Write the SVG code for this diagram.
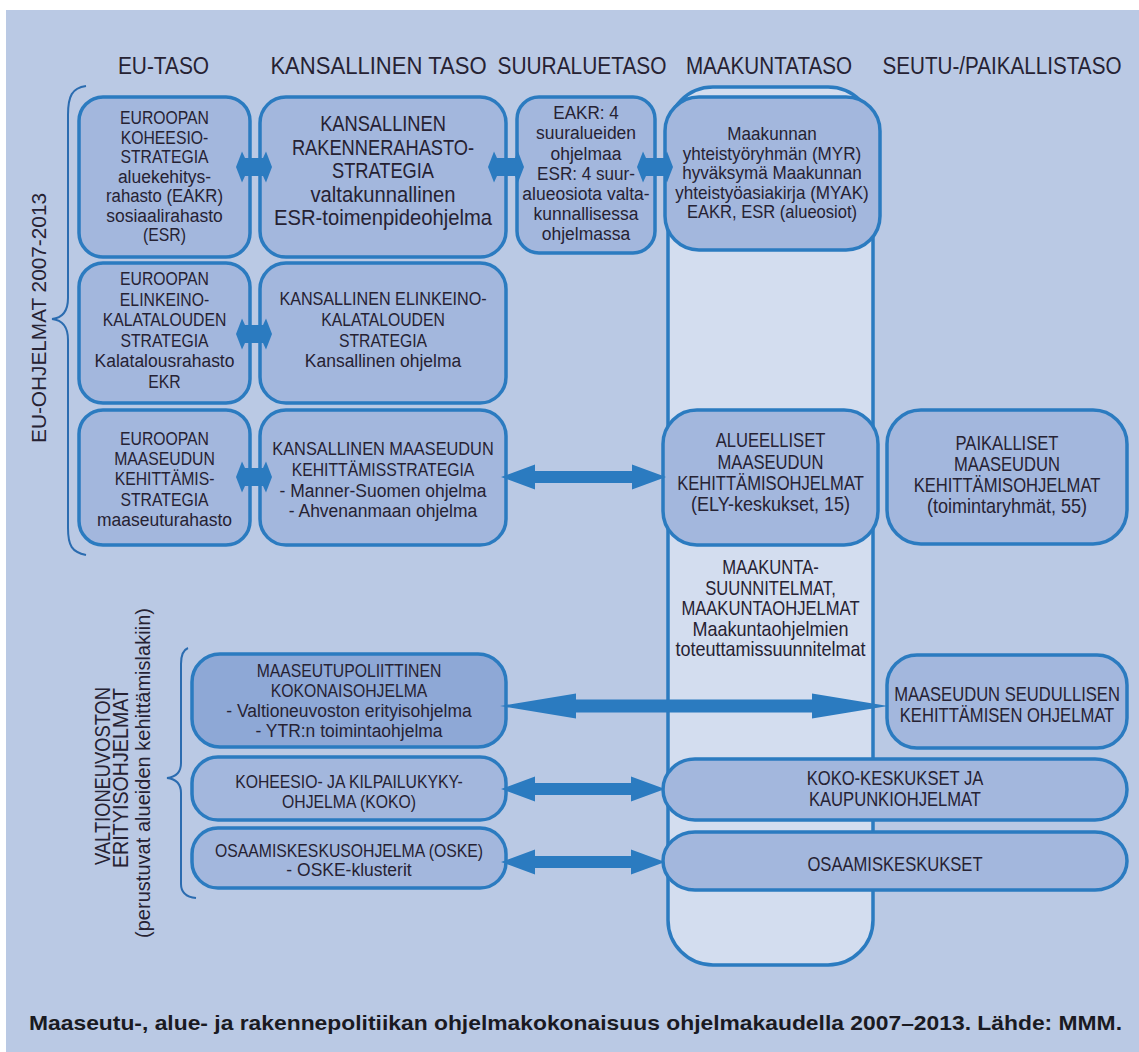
<svg xmlns="http://www.w3.org/2000/svg" xmlns:xlink="http://www.w3.org/1999/xlink" width="1139" height="1052" viewBox="0 0 1139 1052">
<style>
text { font-family: "Liberation Sans", Arial, sans-serif; fill: #262233; text-anchor: middle; }
.hd { font-size: 24px; }
.bx { fill: #a3b7dd; stroke: #2b7bc0; stroke-width: 3.5; }
.dk { fill: #8ea8d6; }
.col { fill: #d3ddef; stroke: #2b7bc0; stroke-width: 3.5; }
.arr { fill: #2b7bc0; }
.br { fill: none; stroke: #2b6cb0; stroke-width: 2; }
.f18 { font-size: 18px; } .f19 { font-size: 19px; } .f20 { font-size: 20px; } .f22 { font-size: 22px; }
.cap { font-weight: bold; font-size: 21px; fill: #1a1a22; }
</style>
<defs>
<path id="sa" d="M -18 0 L -12 -15.5 L -9 -9 L 9 -9 L 12 -15.5 L 18 0 L 12 15.5 L 9 9 L -9 9 L -12 15.5 Z"/>
</defs>
<rect width="1139" height="1052" fill="#ffffff"/>
<rect x="6" y="10" width="1133" height="1042" fill="#bac9e4"/>

<g id="headers" class="hd">
<text transform="matrix(0.87 0 0 1 163.5 74)">EU-TASO</text>
<text transform="matrix(0.92 0 0 1 378.5 74)">KANSALLINEN TASO</text>
<text transform="matrix(0.87 0 0 1 582 74)">SUURALUETASO</text>
<text transform="matrix(0.86 0 0 1 769 74)">MAAKUNTATASO</text>
<text transform="matrix(0.86 0 0 1 1002 74)">SEUTU-/PAIKALLISTASO</text>
</g>

<g id="labels">
<path class="br" d="M 86 86 C 72 88 68 96 68 115 L 68 298 C 68 312 62 318 52 319 C 62 320 68 326 68 340 L 68 528 C 68 546 72 552 86 555"/>
<text class="f20" transform="translate(46 318) rotate(-90)" font-size="21" textLength="250" lengthAdjust="spacingAndGlyphs">EU-OHJELMAT 2007-2013</text>
<path class="br" d="M 188 648 C 183 650 181 655 181 664 L 181 763 C 181 772 176 777 167 778 C 176 779 181 784 181 793 L 181 884 C 181 892 186 897 196 898"/>
<text transform="translate(110 776) rotate(-90)" font-size="22" textLength="178" lengthAdjust="spacingAndGlyphs">VALTIONEUVOSTON</text>
<text transform="translate(128 778) rotate(-90)" font-size="22" textLength="180" lengthAdjust="spacingAndGlyphs">ERITYISOHJELMAT</text>
<text transform="translate(150 773) rotate(-90)" font-size="20" textLength="330" lengthAdjust="spacingAndGlyphs">(perustuvat alueiden kehittämislakiin)</text>
</g>

<g id="col-maakunta">
<rect class="col" x="668" y="87" width="205" height="878" rx="45"/>
<g class="f20">
<text transform="matrix(0.83 0 0 1 770.5 574)">MAAKUNTA-</text>
<text transform="matrix(0.83 0 0 1 770.5 595)">SUUNNITELMAT,</text>
<text transform="matrix(0.83 0 0 1 770.5 615)">MAAKUNTAOHJELMAT</text>
<text transform="matrix(0.9 0 0 1 770.5 636)">Maakuntaohjelmien</text>
<text transform="matrix(0.9 0 0 1 770.5 656)">toteuttamissuunnitelmat</text>
</g>
</g>

<g id="n-eu-koheesio" class="f19">
<rect class="bx" x="79" y="97" width="171" height="160" rx="24"/>
<text transform="matrix(0.83 0 0 1 164.5 124)">EUROOPAN</text>
<text transform="matrix(0.83 0 0 1 164.5 143.5)">KOHEESIO-</text>
<text transform="matrix(0.83 0 0 1 164.5 163)">STRATEGIA</text>
<text transform="matrix(0.92 0 0 1 164.5 182.5)">aluekehitys-</text>
<text transform="matrix(0.88 0 0 1 164.5 202)">rahasto (EAKR)</text>
<text transform="matrix(0.92 0 0 1 164.5 221.5)">sosiaalirahasto</text>
<text transform="matrix(0.83 0 0 1 164.5 241)">(ESR)</text>
</g>

<g id="n-kans-rakenne" class="f22">
<rect class="bx" x="260" y="97" width="246" height="160" rx="26"/>
<text transform="matrix(0.83 0 0 1 383 131)">KANSALLINEN</text>
<text transform="matrix(0.83 0 0 1 383 154.5)">RAKENNERAHASTO-</text>
<text transform="matrix(0.83 0 0 1 383 178)">STRATEGIA</text>
<text transform="matrix(0.92 0 0 1 383 201.5)">valtakunnallinen</text>
<text transform="matrix(0.92 0 0 1 383 225)">ESR-toimenpideohjelma</text>
</g>

<g id="n-suuralue" class="f19">
<rect class="bx" x="517" y="97" width="138" height="156" rx="22"/>
<text transform="matrix(0.9 0 0 1 586 119)">EAKR: 4</text>
<text transform="matrix(0.92 0 0 1 586 139)">suuralueiden</text>
<text transform="matrix(0.92 0 0 1 586 159.5)">ohjelmaa</text>
<text transform="matrix(0.9 0 0 1 586 179.5)">ESR: 4 suur-</text>
<text transform="matrix(0.92 0 0 1 586 200)">alueosiota valta-</text>
<text transform="matrix(0.92 0 0 1 586 220)">kunnallisessa</text>
<text transform="matrix(0.92 0 0 1 586 240)">ohjelmassa</text>
</g>

<g id="n-maakunta-myak" class="f18">
<rect class="bx" x="665" y="97" width="215" height="153" rx="34"/>
<text transform="matrix(0.95 0 0 1 772 140)">Maakunnan</text>
<text transform="matrix(0.95 0 0 1 772 159.5)">yhteistyöryhmän (MYR)</text>
<text transform="matrix(0.95 0 0 1 772 179)">hyväksymä Maakunnan</text>
<text transform="matrix(0.95 0 0 1 772 198.5)">yhteistyöasiakirja (MYAK)</text>
<text transform="matrix(0.92 0 0 1 772 218)">EAKR, ESR (alueosiot)</text>
</g>

<g id="n-eu-kala" class="f19">
<rect class="bx" x="79" y="263" width="171" height="140" rx="24"/>
<text transform="matrix(0.83 0 0 1 164.5 285)">EUROOPAN</text>
<text transform="matrix(0.83 0 0 1 164.5 305.5)">ELINKEINO-</text>
<text transform="matrix(0.83 0 0 1 164.5 326)">KALATALOUDEN</text>
<text transform="matrix(0.83 0 0 1 164.5 346.5)">STRATEGIA</text>
<text transform="matrix(0.92 0 0 1 164.5 367)">Kalatalousrahasto</text>
<text transform="matrix(0.83 0 0 1 164.5 388)">EKR</text>
</g>

<g id="n-kans-kala" class="f19">
<rect class="bx" x="260" y="263" width="246" height="140" rx="26"/>
<text transform="matrix(0.85 0 0 1 383 305)">KANSALLINEN ELINKEINO-</text>
<text transform="matrix(0.83 0 0 1 383 326)">KALATALOUDEN</text>
<text transform="matrix(0.83 0 0 1 383 347)">STRATEGIA</text>
<text transform="matrix(0.92 0 0 1 383 367)">Kansallinen ohjelma</text>
</g>

<g id="n-eu-maaseutu" class="f19">
<rect class="bx" x="79" y="410" width="171" height="135" rx="24"/>
<text transform="matrix(0.83 0 0 1 164.5 445)">EUROOPAN</text>
<text transform="matrix(0.83 0 0 1 164.5 465)">MAASEUDUN</text>
<text transform="matrix(0.83 0 0 1 164.5 485)">KEHITTÄMIS-</text>
<text transform="matrix(0.83 0 0 1 164.5 505.5)">STRATEGIA</text>
<text transform="matrix(0.92 0 0 1 164.5 526)">maaseuturahasto</text>
</g>

<g id="n-kans-maaseutu" class="f19">
<rect class="bx" x="260" y="410" width="246" height="135" rx="26"/>
<text transform="matrix(0.86 0 0 1 383 455)">KANSALLINEN MAASEUDUN</text>
<text transform="matrix(0.83 0 0 1 383 476)">KEHITTÄMISSTRATEGIA</text>
<text transform="matrix(0.92 0 0 1 383 497)">- Manner-Suomen ohjelma</text>
<text transform="matrix(0.92 0 0 1 383 517)">- Ahvenanmaan ohjelma</text>
</g>

<g id="n-alueelliset" class="f20">
<rect class="bx" x="663" y="410" width="215" height="135" rx="34"/>
<text transform="matrix(0.83 0 0 1 770.5 447)">ALUEELLISET</text>
<text transform="matrix(0.83 0 0 1 770.5 469)">MAASEUDUN</text>
<text transform="matrix(0.83 0 0 1 770.5 490)">KEHITTÄMISOHJELMAT</text>
<text transform="matrix(0.9 0 0 1 770.5 511)">(ELY-keskukset, 15)</text>
</g>

<g id="n-paikalliset" class="f20">
<rect class="bx" x="887" y="410" width="240" height="134" rx="34"/>
<text transform="matrix(0.83 0 0 1 1007 450)">PAIKALLISET</text>
<text transform="matrix(0.83 0 0 1 1007 471)">MAASEUDUN</text>
<text transform="matrix(0.83 0 0 1 1007 492)">KEHITTÄMISOHJELMAT</text>
<text transform="matrix(0.9 0 0 1 1007 513)">(toimintaryhmät, 55)</text>
</g>

<g id="n-maaseutupol" class="f19">
<rect class="bx dk" x="192" y="654" width="314" height="93" rx="28"/>
<text transform="matrix(0.83 0 0 1 349 677)">MAASEUTUPOLIITTINEN</text>
<text transform="matrix(0.83 0 0 1 349 697)">KOKONAISOHJELMA</text>
<text transform="matrix(0.92 0 0 1 349 717)">- Valtioneuvoston erityisohjelma</text>
<text transform="matrix(0.92 0 0 1 349 737)">- YTR:n toimintaohjelma</text>
</g>

<g id="n-seudullinen" class="f20">
<rect class="bx" x="887" y="655" width="240" height="93" rx="30"/>
<text transform="matrix(0.83 0 0 1 1007 701)">MAASEUDUN SEUDULLISEN</text>
<text transform="matrix(0.83 0 0 1 1007 722)">KEHITTÄMISEN OHJELMAT</text>
</g>

<g id="n-koko" class="f19">
<rect class="bx" x="192" y="757" width="314" height="63" rx="26"/>
<text transform="matrix(0.83 0 0 1 349 788)">KOHEESIO- JA KILPAILUKYKY-</text>
<text transform="matrix(0.83 0 0 1 349 808)">OHJELMA (KOKO)</text>
</g>

<g id="n-koko-keskukset" class="f20">
<rect class="bx" x="663" y="759" width="464" height="61" rx="32"/>
<text transform="matrix(0.83 0 0 1 895 785)">KOKO-KESKUKSET JA</text>
<text transform="matrix(0.83 0 0 1 895 806)">KAUPUNKIOHJELMAT</text>
</g>

<g id="n-oske" class="f19">
<rect class="bx" x="192" y="828" width="314" height="60" rx="26"/>
<text transform="matrix(0.83 0 0 1 349 857)">OSAAMISKESKUSOHJELMA (OSKE)</text>
<text transform="matrix(0.92 0 0 1 349 876)">- OSKE-klusterit</text>
</g>

<g id="n-osaamiskeskukset" class="f20">
<rect class="bx" x="663" y="832" width="464" height="58" rx="32"/>
<text transform="matrix(0.83 0 0 1 895 871)">OSAAMISKESKUKSET</text>
</g>

<g id="connectors" class="arr">
<use xlink:href="#sa" href="#sa" x="254" y="167"/>
<use xlink:href="#sa" href="#sa" x="506" y="167"/>
<use xlink:href="#sa" href="#sa" x="655" y="167"/>
<use xlink:href="#sa" href="#sa" x="254" y="334"/>
<use xlink:href="#sa" href="#sa" x="254" y="477"/>
<polygon points="501,477 535,464.5 535,471 632,471 632,464.5 666,477 632,489.5 632,483 535,483 535,489.5"/>
<polygon points="500,706 576,693.5 576,699.5 812,699.5 812,693.5 888,706 812,718.5 812,712.5 576,712.5 576,718.5"/>
<polygon points="501,789 535,776.5 535,783 631,783 631,776.5 665,789 631,801.5 631,795 535,795 535,801.5"/>
<polygon points="501,862 535,849.5 535,856 631,856 631,849.5 665,862 631,874.5 631,868 535,868 535,874.5"/>
</g>

<text class="cap" x="575.5" y="1030" textLength="1093" lengthAdjust="spacingAndGlyphs">Maaseutu-, alue- ja rakennepolitiikan ohjelmakokonaisuus ohjelmakaudella 2007–2013. Lähde: MMM.</text>
</svg>
